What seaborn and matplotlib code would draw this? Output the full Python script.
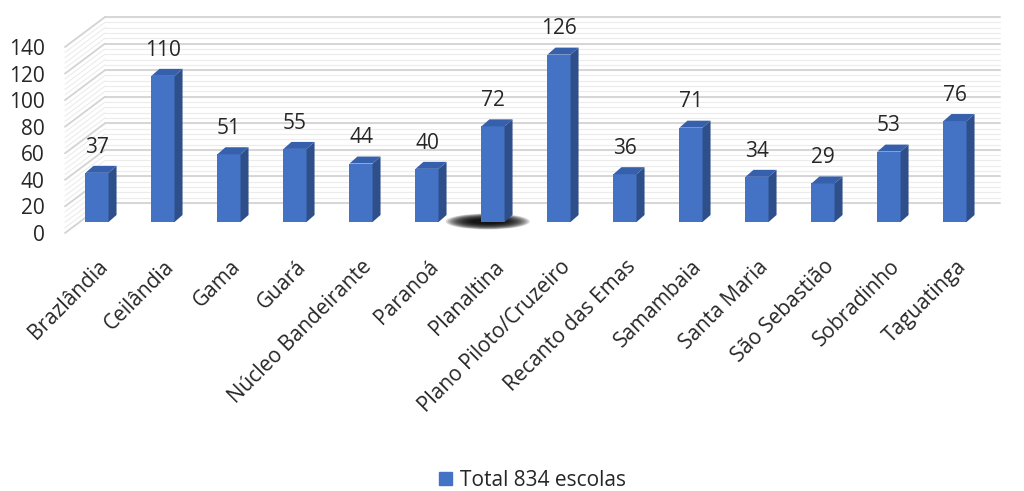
import numpy as np
import pandas as pd
import matplotlib
matplotlib.use("Agg")
import matplotlib.pyplot as plt
import matplotlib.transforms as mtransforms
from matplotlib.patches import Polygon, Ellipse, Patch
import seaborn as sns

categories = ["Brazlândia", "Ceilândia", "Gama", "Guará", "Núcleo Bandeirante",
              "Paranoá", "Planaltina", "Plano Piloto/Cruzeiro", "Recanto das Emas",
              "Samambaia", "Santa Maria", "São Sebastião", "Sobradinho", "Taguatinga"]
values = [37, 110, 51, 55, 44, 40, 72, 126, 36, 71, 34, 29, 53, 76]
yticks = [0, 20, 40, 60, 80, 100, 120, 140]
series_name = "Total 834 escolas"

sns.set_theme(style="white")
plt.rcParams['font.family'] = ['Open Sans', 'DejaVu Sans']

W, H = 1024, 491
fig = plt.figure(figsize=(W / 100, H / 100), dpi=100)
ax_l, ax_r, ax_t, ax_b = 64, 988, 36, 222
ax = fig.add_axes([ax_l / W, 1 - ax_b / H, (ax_r - ax_l) / W, (ax_b - ax_t) / H])

df = pd.DataFrame({"cat": categories, "val": values})
front = "#4472C4"
side = "#2F4F8A"
topc = "#3760AC"
txt = "#262626"
sns.barplot(data=df, x="cat", y="val", color=front, width=0.35, saturation=1,
            linewidth=0, edgecolor="none", ax=ax, zorder=3)
ax.set_ylim(0, 140)
ax.set_xlim(-0.5, len(categories) - 0.5)
ax.set_xlabel("")
ax.set_ylabel("")
for s in ax.spines.values():
    s.set_visible(False)


def px(dx, dy):
    return mtransforms.ScaledTranslation(dx / 100, dy / 100, fig.dpi_scale_trans)


axw = ax_r - ax_l
ppu_y = (ax_b - ax_t) / 140.0
ppu_x = axw / len(categories)

# back wall and left wall
blend = mtransforms.blended_transform_factory(ax.transAxes, ax.transData)
minor = np.arange(0, 141, 4)
for v in minor:
    ax.plot([41 / axw, 1 + 12 / axw], [v, v], transform=blend + px(0, 19),
            color="#ececec", lw=0.8, clip_on=False, zorder=0)
    ax.plot([1 / axw, 41 / axw], [v, v + 30 / ppu_y], transform=blend + px(0, -11),
            color="#ececec", lw=0.8, clip_on=False, zorder=0)
for v in yticks:
    ax.plot([41 / axw, 1 + 12 / axw], [v, v], transform=blend + px(0, 19),
            color="#d4d4d4", lw=1.3, clip_on=False, zorder=1)
    ax.plot([1 / axw, 41 / axw], [v, v + 30 / ppu_y], transform=blend + px(0, -11),
            color="#d4d4d4", lw=1.3, clip_on=False, zorder=1)

# shadow under Planaltina
bars = list(ax.patches)
pb = bars[categories.index("Planaltina")]
cx = pb.get_x() + pb.get_width() / 2
for i in range(14):
    e = Ellipse((cx - 0.08, 0.5 / ppu_y), width=(84 - i * 4) / ppu_x,
                height=(16 - i * 0.9) / ppu_y, angle=0, color="black",
                alpha=0.16, zorder=2, clip_on=False, lw=0)
    ax.add_patch(e)

# 3D faces
dx = 8 / ppu_x
dy = 7 / ppu_y
for b in bars:
    x0 = b.get_x()
    x1 = x0 + b.get_width()
    h = b.get_height()
    ax.add_patch(Polygon([(x1, 0), (x1 + dx, dy), (x1 + dx, h + dy), (x1, h)],
                         closed=True, facecolor=side, edgecolor="none", zorder=3,
                         clip_on=False))
    ax.add_patch(Polygon([(x0, h), (x0 + dx, h + dy), (x1 + dx, h + dy), (x1, h)],
                         closed=True, facecolor=topc, edgecolor="none", zorder=3,
                         clip_on=False))

ax.bar_label(ax.containers[0], labels=[str(v) for v in values], padding=11,
             fontsize=15, color=txt)

ax.set_yticks(yticks)
ax.set_yticklabels([str(t) for t in yticks])
ax.tick_params(axis="y", length=0, pad=14, labelsize=15, labelcolor=txt)
for lbl in ax.get_yticklabels():
    lbl.set_transform(lbl.get_transform() + px(0, -11))

ax.tick_params(axis="x", length=0, pad=30, labelsize=15, labelcolor=txt)
for lbl in ax.get_xticklabels():
    lbl.set_rotation(45)
    lbl.set_ha("right")
    lbl.set_va("center")
    lbl.set_rotation_mode("anchor")
    lbl.set_transform(lbl.get_transform() + px(8, 0))

fig.legend(handles=[Patch(color=front, label=series_name)], loc="lower center",
           bbox_to_anchor=(0.52, -0.038), frameon=False, fontsize=15,
           handlelength=0.6, handleheight=0.6, handletextpad=0.4, labelcolor=txt)

fig.savefig("out.png", dpi=100, facecolor="white")
